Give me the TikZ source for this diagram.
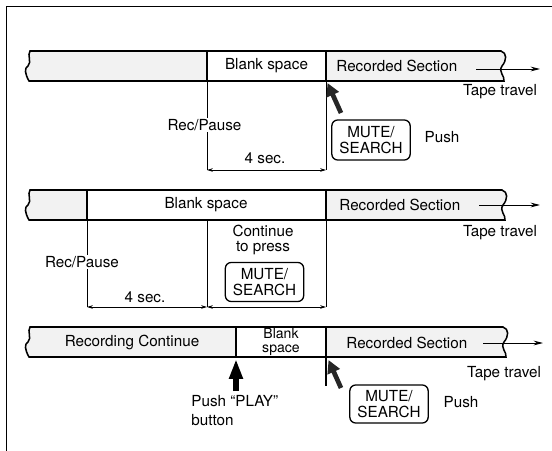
\documentclass[tikz,border=0pt]{standalone}
\usepackage{fontspec}
\setmainfont{TeX Gyre Heros}
\usetikzlibrary{arrows.meta}

\begin{document}
\begin{tikzpicture}[
    x=0.03cm, y=-0.03cm,
    tape/.style={draw, line width=1.3pt, fill=black!5},
    blank/.style={fill=white},
    divider/.style={line width=0.9pt},
    marker/.style={line width=0.8pt},
    label/.style={font=\fontsize{13}{13.5}\selectfont, inner sep=1pt, align=center},
    btn/.style={
        draw, line width=1.1pt, rounded corners=5pt,
        minimum width=2.35cm, minimum height=1.2cm,
        font=\fontsize{13}{13.5}\selectfont, align=center, inner sep=1pt
    },
    dim/.style={line width=0.7pt, {Stealth[length=5pt,width=3pt]}-{Stealth[length=5pt,width=3pt]}},
    travel/.style={line width=0.8pt, -{Stealth[length=8pt,width=4pt]}},
    pointer/.style={line width=4pt, black!85, -{Triangle[length=11pt,width=11pt]}},
    play/.style={line width=5pt, -{Triangle[length=17pt,width=11pt]}}
]
    \useasboundingbox (0,0) rectangle (552,451);

    % Frame
    \draw[line width=0.8pt] (552,6) -- (6,6) -- (6,451);

    % Tape 1
    \filldraw[tape] (30,51) -- (501,51) .. controls (507,53) and (507,60) .. (502,66)
        .. controls (498,72) and (505,76) .. (504,81) -- (29,81)
        .. controls (25,74) and (24,68) .. (28,66) .. controls (32,62) and (27,55) .. (30,51) -- cycle;
    \fill[blank] (207,51.8) rectangle (326,80.2);
    \draw[divider] (207,51) -- (207,81);
    \draw[divider] (326,51) -- (326,81);
    \node[label] (blank1) at (266.5,66) {Blank space};
    \node[label, anchor=west] (rec1) at (335,66) {Recorded Section};
    \coordinate (go1a) at (476,69);
    \coordinate (go1b) at (540,69);
    \draw[travel] (go1a) -- (go1b);
    \node[label] (travel1) at (500,92) {Tape travel};

    \coordinate (p1) at (207,81);
    \coordinate (p1d) at (207,170);
    \coordinate (q1) at (326,81);
    \coordinate (q1d) at (326,170);
    \draw[marker] (p1) -- (p1d);
    \draw[marker] (q1) -- (q1d);
    \node[label, fill=white] (pause1) at (204.5,125) {Rec/Pause};
    \draw[dim] (p1d) -- (q1d);
    \node[label] (sec1) at (265,158) {4 sec.};
    \coordinate (hand1) at (341,113);
    \coordinate (tip1) at (327.5,83);
    \draw[pointer] (hand1) -- (tip1);
    \node[btn] (mute1) at (371,140) {MUTE/\\SEARCH};
    \node[label] (push1) at (442,137) {Push};

    % Tape 2
    \filldraw[tape] (30,190) -- (502,190) .. controls (508,192) and (508,199) .. (503,205)
        .. controls (499,211) and (506,215) .. (505,220) -- (29,220)
        .. controls (25,213) and (24,207) .. (28,205) .. controls (32,201) and (27,194) .. (30,190) -- cycle;
    \fill[blank] (87,190.8) rectangle (326,219.2);
    \draw[divider] (87,190) -- (87,220);
    \draw[divider] (326,190) -- (326,220);
    \node[label] (blank2) at (206,205) {Blank space};
    \node[label, anchor=west] (rec2) at (338,205) {Recorded Section};
    \coordinate (go2a) at (479,205);
    \coordinate (go2b) at (540,205);
    \draw[travel] (go2a) -- (go2b);
    \node[label] (travel2) at (500,233) {Tape travel};

    \coordinate (p2) at (87,220);
    \coordinate (p2d) at (87,307);
    \coordinate (m2) at (207,220);
    \coordinate (m2d) at (207,307);
    \coordinate (q2) at (326,220);
    \coordinate (q2d) at (326,307);
    \draw[marker] (p2) -- (p2d);
    \draw[marker] (m2) -- (m2d);
    \draw[marker] (q2) -- (q2d);
    \node[label, fill=white] (pause2) at (82,262) {Rec/Pause};
    \node[label] (press2) at (263,240) {Continue\\to press};
    \node[btn, minimum height=1.17cm] (mute2) at (264.5,282) {MUTE/\\SEARCH};
    \draw[dim] (p2d) -- (m2d);
    \draw[dim] (m2d) -- (q2d);
    \node[label] (sec2) at (145,297) {4 sec.};

    % Tape 3
    \filldraw[tape] (30,327) -- (503,327) .. controls (509,329) and (509,336) .. (504,342)
        .. controls (500,348) and (507,352) .. (506,357) -- (29,357)
        .. controls (25,350) and (24,344) .. (28,342) .. controls (32,338) and (27,331) .. (30,327) -- cycle;
    \fill[blank] (236,327.8) rectangle (326,356.2);
    \draw[divider] (236,327) -- (236,357);
    \draw[divider] (326,327) -- (326,357);
    \node[label] (cont3) at (132,342) {Recording Continue};
    \node[label, inner sep=0pt, font=\fontsize{12}{11.5}\selectfont] (blank3) at (281,342) {Blank\\space};
    \node[label, anchor=west] (rec3) at (345,343) {Recorded Section};
    \coordinate (go3a) at (483,343);
    \coordinate (go3b) at (543,343);
    \draw[travel] (go3a) -- (go3b);
    \node[label] (travel3) at (504,374) {Tape travel};

    \coordinate (play3) at (236,391);
    \coordinate (playtip3) at (236,359);
    \draw[play] (play3) -- (playtip3);
    \node[label, align=left, anchor=north west, font=\fontsize{13}{16}\selectfont]
        (push3) at (190,394) {Push ``PLAY''\\button};
    \coordinate (q3) at (326,358);
    \coordinate (q3d) at (326,386);
    \draw[line width=1.5pt] (q3) -- (q3d);
    \coordinate (hand3) at (341,388);
    \coordinate (tip3) at (328.5,360);
    \draw[pointer] (hand3) -- (tip3);
    \node[btn, minimum height=1.14cm] (mute3) at (389,404) {MUTE/\\SEARCH};
    \node[label] (pushb3) at (461,402) {Push};
\end{tikzpicture}
\end{document}
